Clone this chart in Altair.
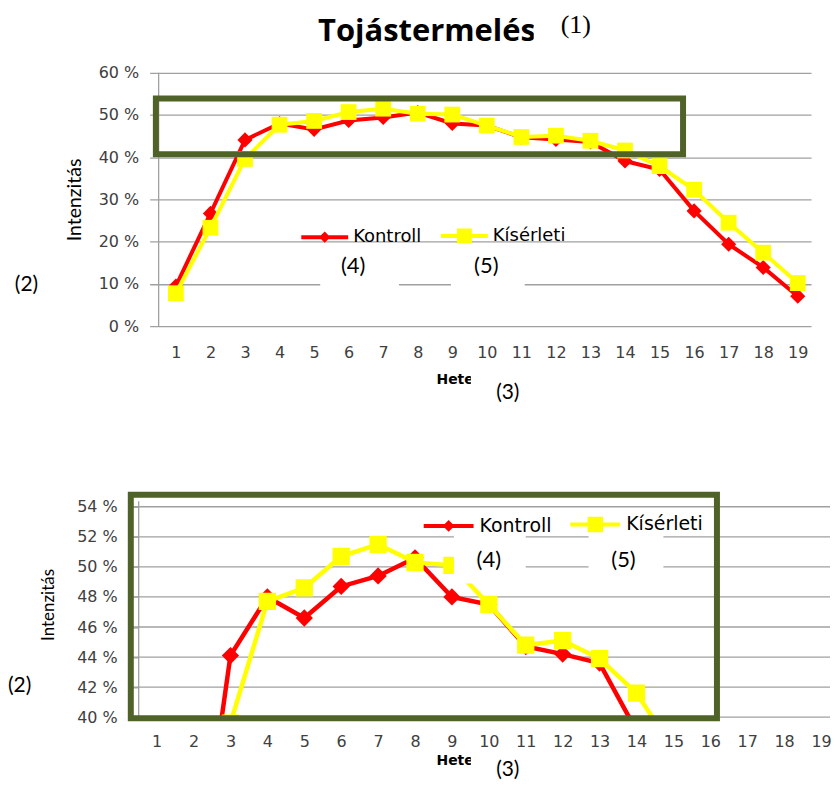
import altair as alt
import pandas as pd

# ---------------- data ----------------
weeks = list(range(1, 20))
kontroll = [9.5, 26.7, 44.1, 48.0, 46.6, 48.7, 49.4, 50.6, 48.0, 47.5,
            44.7, 44.2, 43.6, 39.1, 37.1, 27.3, 19.4, 13.9, 7.1]
kiserleti = [7.8, 23.3, 39.6, 47.7, 48.6, 50.7, 51.5, 50.3, 50.1, 47.5,
             44.8, 45.1, 43.9, 41.6, 37.9, 32.3, 24.5, 17.4, 10.2]
series_names = ["Kontroll", "Kísérleti"]
series_colors = ["#FF0000", "#FFFF00"]
marker_shapes = ["diamond", "square"]

title_text = "Tojástermelés"
y_title = "Intenzitás"
x_title = "Hetek"
note_labels = ["(1)", "(2)", "(3)", "(4)", "(5)"]

top_y_ticks = [0, 10, 20, 30, 40, 50, 60]
bottom_y_ticks = [40, 42, 44, 46, 48, 50, 52, 54]

# the 40-54 % window that is enlarged in the lower chart
top_window_x = [0.42, 15.68]
top_window_y = [40.7, 53.9]
bottom_window_x = [0.30, 16.18]
bottom_window_y = [39.93, 54.8]

rows = []
for name, vals in zip(series_names, [kontroll, kiserleti]):
    for w, v in zip(weeks, vals):
        rows.append({"week": w, "value": v, "series": name})
df = pd.DataFrame(rows)

FRAME = "#4F6228"
GRID = "#A0A0A0"
LABEL = "#404040"


def one_row():
    return pd.DataFrame({"k": [0]})


def panel(c):
    ox, oy = c["origin"]
    ax = c["axis_x"]          # page x of the y-axis group
    off = ox - ax
    xs = alt.Scale(domain=c["xdomain"], nice=False, zero=False)
    ys = alt.Scale(domain=c["ydomain"], nice=False, zero=False)
    x_axis = alt.Axis(
        values=weeks, format="d", grid=False, domain=False, ticks=False,
        labelFont="DejaVu Sans", labelFontSize=16, labelColor=LABEL,
        labelPadding=c["xlab_pad"], labelOverlap=False, labelFlush=False,
        title=x_title, titleFont="DejaVu Sans", titleFontSize=14,
        titleFontWeight="bold", titleColor="#000000", titleAlign="left",
        titleBaseline="middle", titleX=c["xtitle"][0] - ox,
        titleY=c["xtitle"][1] - (oy + c["height"]), zindex=0)
    y_axis = alt.Axis(
        values=c["yticks"], labelExpr="datum.value + ' %'", grid=c["axis_grid"],
        gridColor=GRID, gridWidth=1.3, domain=c["axis_domain"], domainColor=GRID,
        domainWidth=1.3, ticks=c["tick"] > 0, tickSize=max(c["tick"], 1), tickColor=GRID,
        tickWidth=1.3, labelFont="DejaVu Sans", labelFontSize=16,
        labelColor=LABEL, labelPadding=c["ylab_pad"], offset=off,
        title=y_title, titleFont="Lato", titleFontSize=c["ytitle_size"],
        titleFontWeight="normal", titleColor="#000000", titleAngle=270,
        titleAlign="center", titleBaseline="middle",
        titleX=c["ytitle"][0] - ax, titleY=c["ytitle"][1] - oy, zindex=0)
    X = alt.X("week:Q", scale=xs, axis=x_axis)
    Y = alt.Y("value:Q", scale=ys, axis=y_axis)

    layers = []
    if not c["axis_grid"]:
        grid_df = pd.DataFrame({"value": c["yticks"]})
        layers.append(alt.Chart(grid_df).mark_rule(color=GRID, strokeWidth=1.3)
                      .encode(y=Y, x=alt.value(c["grid_x"][0] - ox),
                              x2=alt.value(c["grid_x"][1] - ox)))
    if not c["axis_domain"]:
        # vertical value axis line at the left edge of the first week band
        ax_df = pd.DataFrame({"week": [c["xdomain_edge"]], "value": [c["ydomain"][0]],
                              "v2": [c["ydomain"][1]]})
        layers.append(alt.Chart(ax_df).mark_rule(color=GRID, strokeWidth=1.3)
                      .encode(x=X, y=Y, y2="v2:Q"))
    for name, color, shape in zip(series_names, series_colors, marker_shapes):
        sub = alt.Chart(df).transform_filter(alt.datum.series == name)
        layers.append(sub.mark_line(color=color, strokeWidth=c["lw"], clip=c["clip"])
                      .encode(x=X, y=Y))
        layers.append(sub.mark_point(shape=shape, filled=True, color=color, opacity=1,
                                     size=c["msize"][shape], clip=c["clip"])
                      .encode(x=X, y=Y))

    win = pd.DataFrame({"x0": [c["wx"][0]], "x1": [c["wx"][1]],
                        "y0": [c["wy"][0]], "y1": [c["wy"][1]]})
    layers.append(alt.Chart(win).mark_rect(fillOpacity=0, stroke=FRAME, strokeWidth=6)
                  .encode(x=alt.X("x0:Q", scale=xs, axis=x_axis), x2="x1:Q",
                          y=alt.Y("y0:Q", scale=ys, axis=y_axis), y2="y1:Q"))

    leg = alt.Legend(title=None, orient="none", legendX=c["leg"][0] - ox,
                     legendY=c["leg"][1] - oy, direction="horizontal",
                     symbolSize=c["legsym"], symbolStrokeWidth=4,
                     labelFont="DejaVu Sans", labelFontSize=c["legfs"],
                     labelColor="#000000", labelOffset=c["legoff"],
                     columnPadding=c["legpad"], padding=0)
    layers.append(
        alt.Chart(df).transform_filter("false")
        .mark_point(filled=True, opacity=1, strokeWidth=4)
        .encode(
            shape=alt.Shape("series:N", scale=alt.Scale(domain=series_names, range=c["legpaths"]), legend=leg),
            fill=alt.Fill("series:N", scale=alt.Scale(domain=series_names, range=series_colors), legend=leg),
            stroke=alt.Stroke("series:N", scale=alt.Scale(domain=series_names, range=series_colors), legend=leg),
        ))

    for n in c["notes"]:
        if "patch" in n:
            x0, x1, y0, y1 = n["patch"]
            layers.append(alt.Chart(one_row()).mark_rect(color="white", opacity=1)
                          .encode(x=alt.value(x0 - ox), x2=alt.value(x1 - ox),
                                  y=alt.value(y0 - oy), y2=alt.value(y1 - oy)))
        layers.append(alt.Chart(one_row()).mark_text(
            text=n["text"], font=n["font"], fontSize=n["size"],
            fontWeight=n.get("weight", "normal"), align=n.get("align", "center"),
            baseline="middle", color="#000000")
            .encode(x=alt.value(n["x"] - ox), y=alt.value(n["y"] - oy)))

    return alt.layer(*layers).properties(width=c["width"], height=c["height"])


# both views start at x = 150 (the concat aligns them); the week scales are
# chosen so that the upper plot's axis line is at 159 and the lower one's at 138.5
top_cfg = {
    "origin": (150, 72), "axis_x": 150, "width": 663, "height": 254,
    "xdomain": [0.24, 19.385], "xdomain_edge": 0.5, "ydomain": [0, 60],
    "yticks": top_y_ticks, "axis_grid": True, "axis_domain": False,
    "xlab_pad": 18, "ylab_pad": 11, "tick": 0,
    "xtitle": (437, 379), "ytitle": (75, 199), "ytitle_size": 19.5,
    "lw": 4, "msize": {"diamond": 230, "square": 250}, "clip": False,
    "wx": top_window_x, "wy": top_window_y,
    "leg": (300, 210), "legsym": 2209, "legfs": 18, "legoff": 3, "legpad": 11,
    "legpaths": ["M-1,0H1M-0.12,0L0,-0.12L0.12,0L0,0.12Z",
                 "M-1,0H1M-0.23,-0.23H0.23V0.23H-0.23Z"],
    "notes": [
        {"text": title_text, "x": 428, "y": 31, "font": "Open Sans", "size": 31, "weight": "bold"},
        {"text": note_labels[0], "x": 562, "y": 24, "font": "Liberation Serif", "size": 26,
         "align": "left", "patch": (535, 602, 8, 44)},
        {"text": note_labels[1], "x": 26.5, "y": 285, "font": "Lato", "size": 21,
         "patch": (8, 45, 270, 300)},
        {"text": note_labels[2], "x": 509, "y": 393, "font": "Lato", "size": 21,
         "patch": (472, 540, 368, 406)},
        {"text": note_labels[3], "x": 354, "y": 266, "font": "Lato", "size": 22,
         "patch": (321, 400, 246, 292)},
        {"text": note_labels[4], "x": 487.5, "y": 266, "font": "Lato", "size": 22,
         "patch": (452, 526, 246, 292)},
    ],
}

bottom_cfg = {
    "origin": (150, 501), "axis_x": 138.5, "width": 682, "height": 217,
    "xdomain": [0.811, 19.243], "xdomain_edge": 0.5, "ydomain": [40, 54.4],
    "yticks": bottom_y_ticks, "axis_grid": False, "axis_domain": True,
    "grid_x": (133, 832),
    "xlab_pad": 16, "ylab_pad": 15, "tick": 6,
    "xtitle": (437, 761.7), "ytitle": (49, 605), "ytitle_size": 17,
    "lw": 4.5, "msize": {"diamond": 300, "square": 300}, "clip": True,
    "wx": bottom_window_x, "wy": bottom_window_y,
    "leg": (422.7, 497.7), "legsym": 2500, "legfs": 19, "legoff": 4, "legpad": 10,
    "legpaths": ["M-1,0H1M-0.12,0L0,-0.12L0.12,0L0,0.12Z",
                 "M-1,0H1M-0.23,-0.23H0.23V0.23H-0.23Z"],
    "notes": [
        {"text": note_labels[1], "x": 8, "y": 686.7, "font": "Lato", "size": 21,
         "align": "left", "patch": (8, 40, 670, 703)},
        {"text": note_labels[2], "x": 509, "y": 771, "font": "Lato", "size": 21,
         "patch": (472, 540, 751, 778)},
        {"text": note_labels[3], "x": 490, "y": 560, "font": "Lato", "size": 22,
         "patch": (455, 527, 533, 584)},
        {"text": note_labels[4], "x": 625, "y": 560, "font": "Lato", "size": 22,
         "patch": (590, 665, 533, 584)},
    ],
}

chart = (
    alt.vconcat(panel(top_cfg), panel(bottom_cfg), spacing=85)
    .resolve_scale(shape="independent", fill="independent", stroke="independent")
    .resolve_legend(shape="independent", fill="independent", stroke="independent")
    .properties(padding={"left": 0, "top": 0, "right": 0, "bottom": 0})
    .configure_view(stroke=None)
)

chart.save("out.html", embed_options={"renderer": "svg", "actions": False})
